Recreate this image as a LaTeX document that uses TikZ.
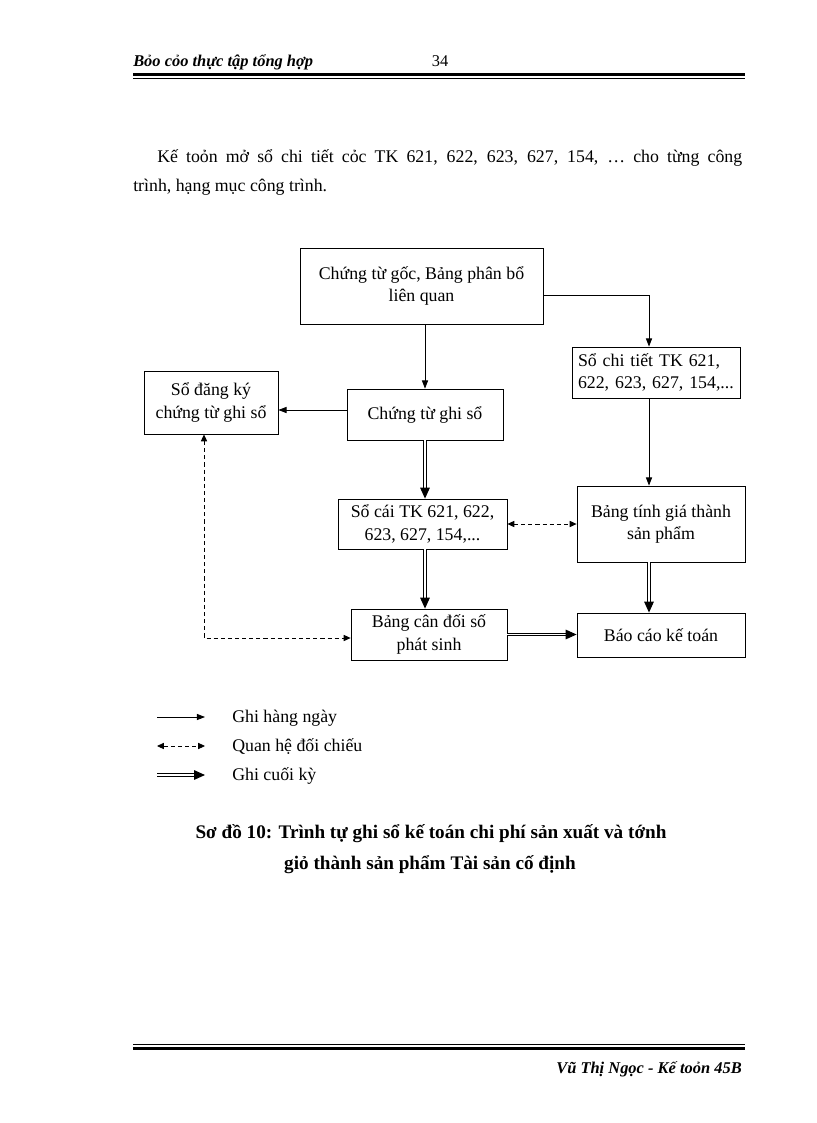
\documentclass[tikz,border=0pt]{standalone}
\usepackage{fontspec}
\setmainfont{Liberation Serif}
\usetikzlibrary{arrows.meta}

\begin{document}
\begin{tikzpicture}[x=0.73pt,y=-0.73pt,
    box/.style={draw,line width=0.6pt,inner sep=2pt,align=center,font=\fontsize{13}{16.5}\selectfont},
    sz/.style 2 args={minimum width=#1*0.73pt,minimum height=#2*0.73pt},
    daily/.style={line width=0.6pt,-{Triangle[length=6pt,width=4.5pt]}},
    check/.style={line width=0.6pt,dash pattern=on 3pt off 2.2pt,{Triangle[length=5pt,width=4.5pt]}-{Triangle[length=5pt,width=4.5pt]}},
    final/.style={double,double distance=0.9pt,line width=0.8pt,-{Triangle[length=8pt,width=7pt]}},
    txt/.style={inner sep=0pt,font=\fontsize{13}{16}\selectfont}]
        \useasboundingbox (0,0) rectangle (816,1123);

        \node[inner sep=0pt,anchor=base west,font=\fontsize{12}{14}\selectfont\bfseries\itshape] (head) at (133,67) {Bỏo cỏo thực tập tổng hợp};
        \node[inner sep=0pt,anchor=base,font=\fontsize{12}{14}\selectfont] (page) at (440,67) {34};
        \draw[line width=2.2pt] (133,74.5) -- (745,74.5);
        \draw[line width=0.7pt] (133,78.5) -- (745,78.5);

        \node[txt,anchor=base west] (par1) at (157,163) {\hbox to 427pt{Kế toỏn mở sổ chi tiết cỏc TK 621, 622, 623, 627, 154, … cho từng công}};
        \node[txt,anchor=base west] (par2) at (133,192) {trình, hạng mục công trình.};

        \node[box,sz={243}{76}] (goc) at (421.5,286) {Chứng từ gốc, Bảng phân bổ\\liên quan};
        \node[box,sz={168}{51},align=left,text width=156*0.73pt] (chitiet) at (656,372.5) {Sổ chi tiết TK 621,\\622, 623, 627, 154,...};
        \node[box,sz={134}{63}] (dangky) at (211,402.5) {Sổ đăng ký\\chứng từ ghi sổ};
        \node[box,sz={156}{51}] (ctgs) at (425,414.5) {Chứng từ ghi sổ};
        \node[box,sz={169}{50}] (socai) at (422.5,524) {Sổ cái TK 621, 622,\\623, 627, 154,...};
        \node[box,sz={168}{76}] (bangtinh) at (661,524) {Bảng tính giá thành\\sản phẩm};
        \node[box,sz={156}{51}] (cdps) at (429,634.5) {Bảng cân đối số\\phát sinh};
        \node[box,sz={168}{44}] (baocao) at (661,635) {Báo cáo kế toán};

        \coordinate (rcol) at (649,295);
        \coordinate (lrow) at (204,638);
        \coordinate (mrow) at (0,410);

        \draw[daily] (ctgs.north |- goc.south) -- (ctgs.north);
        \draw[daily] (goc.east |- rcol) -| (chitiet.north -| rcol);
        \draw[daily] (chitiet.south -| rcol) -- (bangtinh.north -| rcol);
        \draw[daily] (ctgs.west |- mrow) -- (dangky.east |- mrow);

        \draw[final] (ctgs.south) -- (ctgs.south |- socai.north);
        \draw[final] (ctgs.south |- socai.south) -- (ctgs.south |- cdps.north);
        \draw[final] (bangtinh.south -| rcol) -- (baocao.north -| rcol);
        \draw[final] (cdps.east) -- (cdps.east -| baocao.west);

        \draw[check] (socai.east) -- (bangtinh.west);
        \draw[check] (dangky.south -| lrow) |- (cdps.west |- lrow);

        \coordinate (l1a) at (157,717);
        \coordinate (l1b) at (205,717);
        \coordinate (l2a) at (157,746);
        \coordinate (l2b) at (205,746);
        \coordinate (l3a) at (157,775);
        \coordinate (l3b) at (205,775);
        \draw[daily] (l1a) -- (l1b);
        \draw[check] (l2a) -- (l2b);
        \draw[final] (l3a) -- (l3b);
        \node[txt,anchor=base west] (leg1) at (232,722) {Ghi hàng ngày};
        \node[txt,anchor=base west] (leg2) at (232,751) {Quan hệ đối chiếu};
        \node[txt,anchor=base west] (leg3) at (232,780) {Ghi cuối kỳ};

        \node[txt,anchor=base,font=\fontsize{14}{17}\selectfont\bfseries] (cap1) at (431,838) {Sơ đồ 10: Trình tự ghi sổ kế toán chi phí sản xuất và tớnh};
        \node[txt,anchor=base,font=\fontsize{14}{17}\selectfont\bfseries] (cap2) at (430,869) {giỏ thành sản phẩm Tài sản cố định};

        \draw[line width=0.7pt] (133,1044.5) -- (745,1044.5);
        \draw[line width=2.2pt] (133,1048) -- (745,1048);
        \node[inner sep=0pt,anchor=base east,font=\fontsize{12}{14}\selectfont\bfseries\itshape] (foot) at (742,1073) {Vũ Thị Ngọc - Kế toỏn 45B};
    \end{tikzpicture}
\end{document}
